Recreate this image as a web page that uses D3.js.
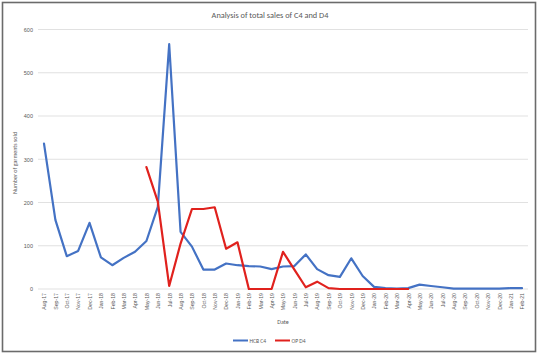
<!DOCTYPE html>
<html><head><meta charset="utf-8">
<script src="https://cdn.jsdelivr.net/npm/d3@7"></script>
<style>body{margin:0;background:#fff;}svg{display:block;font-family:Calibri,Carlito,"Liberation Sans","Open Sans",sans-serif;}</style>
</head><body><svg id="c" width="540" height="354"></svg>
<script>
const categories = ["Aug-17","Sep-17","Oct-17","Nov-17","Dec-17",
"Jan-18","Feb-18","Mar-18","Apr-18","May-18","Jun-18","Jul-18","Aug-18","Sep-18","Oct-18","Nov-18","Dec-18",
"Jan-19","Feb-19","Mar-19","Apr-19","May-19","Jun-19","Jul-19","Aug-19","Sep-19","Oct-19","Nov-19","Dec-19",
"Jan-20","Feb-20","Mar-20","Apr-20","May-20","Jun-20","Jul-20","Aug-20","Sep-20","Oct-20","Nov-20","Dec-20",
"Jan-21","Feb-21"];
const hcbC4 = [336,160,76,88,153,73,55,72,86,111,190,566,132,98,45,45,59,55,53,52,46,52,53,80,46,32,28,71,30,5,2,1,2,10,7,4,1,1,1,1,1,2,2];
const opD4 = [null,null,null,null,null,null,null,null,null,282,202,7,105,185,185,189,93,108,0,0,0,86,45,4,17,2,0,0,0,0,0,0,0,null,null,null,null,null,null,null,null,null,null];
const yTicks = [0,100,200,300,400,500,600];
const seriesNames = ["HCB C4","OP D4"];
const seriesColors = ["#4472C4","#E0211D"];

const svg = d3.select("#c");
// outer frame
svg.append("rect").attr("x",2.5).attr("y",2.5).attr("width",533).attr("height",349)
  .attr("fill","#fff").attr("stroke","#6b6b6b").attr("stroke-width",1.6);

const x = d3.scalePoint().domain(categories).range([44,522]);
const y = d3.scaleLinear().domain([0,600]).range([289,29.5]);
const txt = "#595959";

// gridlines
svg.append("g").selectAll("line").data(yTicks).join("line")
  .attr("x1",38).attr("x2",528).attr("y1",d=>y(d)).attr("y2",d=>y(d))
  .attr("stroke","#d9d9d9").attr("stroke-width",0.8);

// y axis labels
const yAxis = d3.axisLeft(y).tickValues(yTicks).tickSize(0).tickPadding(0);
const gy = svg.append("g").attr("transform","translate(33,0)").call(yAxis);
gy.select(".domain").remove();
gy.selectAll("text").attr("fill",txt).attr("font-size",5.5).style("font-family","inherit");

// x axis labels
const xAxis = d3.axisBottom(x).tickSize(0).tickPadding(0);
const gx = svg.append("g").attr("transform","translate(0,291)").call(xAxis);
gx.select(".domain").remove();
gx.selectAll("text").attr("fill",txt).attr("font-size",5.2).style("font-family","inherit")
  .attr("text-anchor","end").attr("dy","0.35em").attr("dx",0)
  .attr("transform","translate(0,2) rotate(-90)");

// lines
const line = d3.line().defined(d=>d.v!==null).x(d=>x(d.c)).y(d=>y(d.v));
[hcbC4,opD4].forEach((arr,i)=>{
  svg.append("path").datum(categories.map((c,j)=>({c,v:arr[j]})))
    .attr("d",line).attr("fill","none").attr("stroke",seriesColors[i])
    .attr("stroke-width",2.2).attr("stroke-linejoin","round").attr("stroke-linecap","round");
});

// title
svg.append("text").attr("x",270).attr("y",18).attr("text-anchor","middle")
  .attr("font-size",8.3).attr("fill",txt).text("Analysis of total sales of C4 and D4");
// y title
svg.append("text").attr("transform","translate(17,163) rotate(-90)").attr("text-anchor","middle")
  .attr("font-size",6).attr("fill",txt).text("Number of garments sold");
// x title
svg.append("text").attr("x",283).attr("y",324).attr("text-anchor","middle")
  .attr("font-size",6).attr("fill",txt).text("Date");

// legend
const lg = svg.append("g");
const legX = [233,275];
seriesNames.forEach((n,i)=>{
  lg.append("line").attr("x1",legX[i]).attr("x2",legX[i]+15).attr("y1",340.5).attr("y2",340.5)
    .attr("stroke",seriesColors[i]).attr("stroke-width",2);
  lg.append("text").attr("x",legX[i]+16.5).attr("y",342.5).attr("font-size",5.6).attr("fill",txt).text(n);
});
</script></body></html>
